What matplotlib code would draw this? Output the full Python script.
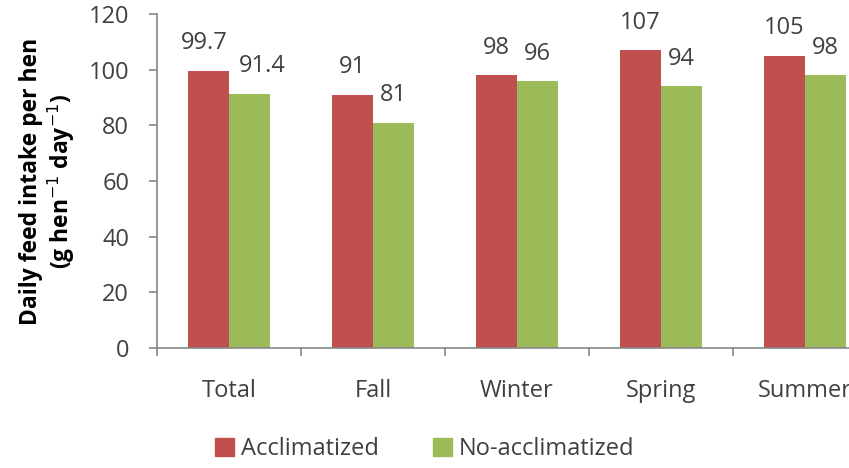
import numpy as np
import matplotlib
matplotlib.use('Agg')
import matplotlib.pyplot as plt
from matplotlib.patches import Patch

categories = ['Total', 'Fall', 'Winter', 'Spring', 'Summer']
acclimatized = [99.7, 91, 98, 107, 105]
no_acclimatized = [91.4, 81, 96, 94, 98]
acc_labels = ['99.7', '91', '98', '107', '105']
noacc_labels = ['91.4', '81', '96', '94', '98']

plt.rcParams['font.family'] = ['Open Sans', 'DejaVu Sans']

red = '#C0504D'
green = '#9BBB59'
gray = '#868686'
txt = '#404040'
fs = 17

fig = plt.figure(figsize=(8.49, 4.68), dpi=100)
# plot area runs past the right edge, as in the reference crop
ax = fig.add_axes([157/849, 1-348/468, 720/849, 334/468])

x = np.arange(len(categories))
w = 0.285
b1 = ax.bar(x - w/2, acclimatized, w, color=red)
b2 = ax.bar(x + w/2, no_acclimatized, w, color=green)

# the wide "Total" labels are nudged apart, like Excel did
for i, (rect, lab) in enumerate(zip(b1, acc_labels)):
    dx = -3 if i == 0 else 0
    ax.annotate(lab, (rect.get_x() + rect.get_width()/2, rect.get_height()),
                xytext=(dx, 11), textcoords='offset points', ha='center', va='bottom',
                fontsize=fs, color=txt)
for i, (rect, lab) in enumerate(zip(b2, noacc_labels)):
    dx = 9 if i == 0 else 0
    ax.annotate(lab, (rect.get_x() + rect.get_width()/2, rect.get_height()),
                xytext=(dx, 11), textcoords='offset points', ha='center', va='bottom',
                fontsize=fs, color=txt)

ax.set_xlim(-0.5, len(categories) - 0.5)
ax.set_ylim(0, 120)
ax.set_yticks(np.arange(0, 121, 20))
ax.set_xticks(x)
ax.set_xticklabels(categories)
ax.set_xticks(np.arange(-0.5, len(categories), 1), minor=True)

for s in ['top', 'right']:
    ax.spines[s].set_visible(False)
for s in ['left', 'bottom']:
    ax.spines[s].set_color(gray)
    ax.spines[s].set_linewidth(1.2)

ax.tick_params(axis='y', colors=gray, labelcolor=txt, labelsize=fs, length=6, width=1.2, pad=14)
ax.tick_params(axis='x', which='major', length=0, labelsize=fs, labelcolor=txt, pad=22)
ax.tick_params(axis='x', which='minor', colors=gray, length=6, width=1.2)

ax.set_ylabel('Daily feed intake per hen\n(g hen$^{-1}$ day$^{-1}$)', fontsize=16.5,
              fontweight='bold', color='black', labelpad=8, linespacing=1.15)

handles = [Patch(color=red, label='Acclimatized'), Patch(color=green, label='No-acclimatized')]
fig.legend(handles=handles, loc='center', bbox_to_anchor=(0.5, 1-449/468), ncol=2,
           frameon=False, fontsize=fs, handlelength=0.8, handleheight=0.8,
           handletextpad=0.3, columnspacing=2.3, labelcolor=txt)

fig.savefig('out.png', dpi=100)
